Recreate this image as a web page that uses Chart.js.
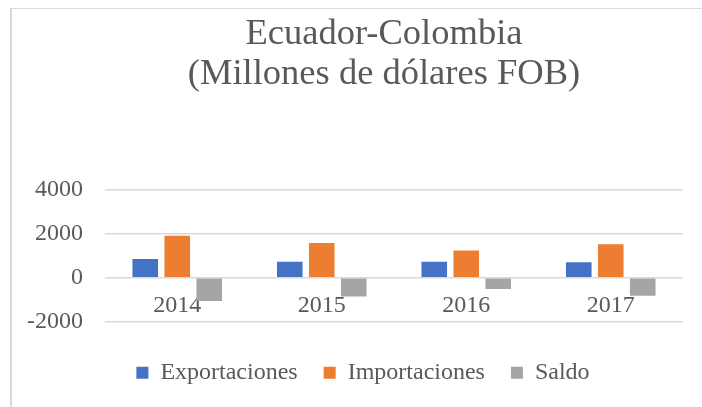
<!DOCTYPE html>
<html>
<head>
<meta charset="utf-8">
<script src="https://cdn.jsdelivr.net/npm/chart.js@4/dist/chart.umd.min.js"></script>
<style>
  html, body { margin: 0; padding: 0; background: #ffffff; }
  #wrap { position: relative; width: 702px; height: 407px; overflow: hidden; }
  #frame { position: absolute; left: 10px; top: 8px; right: -2px; bottom: -2px;
           border-left: 2px solid #d9d9d9; border-top: 1px solid #d9d9d9; pointer-events: none; }
  canvas { position: absolute; left: 0; top: 0; }
</style>
</head>
<body>
<div id="wrap">
  <canvas id="c" width="702" height="407"></canvas>
  <div id="frame"></div>
</div>
<script>
const titleLines = ['Ecuador-Colombia', '(Millones de dólares FOB)'];
const categories = ['2014', '2015', '2016', '2017'];
const exportaciones = [850, 730, 730, 700];
const importaciones = [1910, 1580, 1245, 1520];
const saldo = [-1060, -850, -515, -820];
const seriesNames = ['Exportaciones', 'Importaciones', 'Saldo'];
const yMin = -2000, yMax = 4000, yStep = 2000;

const textColor = '#595959';
const serif = "'Liberation Serif', 'Times New Roman', serif";

const shiftPlugin = {
  id: 'shiftBoxes',
  afterLayout(chart) {
    const t = chart.titleBlock;
    if (t) { t.left += 40; t.right += 40; }
    const l = chart.legend;
    if (l) { l.left += 19; l.right += 19; l.top += 13; l.bottom += 13; }
  }
};

new Chart(document.getElementById('c'), {
  type: 'bar',
  data: {
    labels: categories,
    datasets: [
      { label: seriesNames[0], data: exportaciones, backgroundColor: '#4472C4' },
      { label: seriesNames[1], data: importaciones, backgroundColor: '#ED7D31' },
      { label: seriesNames[2], data: saldo, backgroundColor: '#A5A5A5' }
    ]
  },
  options: {
    responsive: false,
    animation: false,
    devicePixelRatio: 1,
    categoryPercentage: 0.664,
    barPercentage: 0.8,
    layout: { padding: { left: 5, right: 19, top: 0, bottom: 25.3 } },
    plugins: {
      title: {
        display: true,
        text: titleLines,
        color: textColor,
        font: { family: serif, size: 36.5, weight: 'normal', lineHeight: 1.08 },
        padding: { top: 15.2, bottom: 95.8 }
      },
      legend: {
        display: true,
        position: 'bottom',
        labels: {
          color: textColor,
          font: { family: serif, size: 24, weight: 'normal' },
          boxWidth: 12,
          boxHeight: 12,
          padding: 26
        }
      },
      tooltip: { enabled: false }
    },
    scales: {
      x: {
        position: { y: 0 },
        grid: { display: false, drawTicks: false },
        border: { display: false },
        ticks: { color: textColor, font: { family: serif, size: 24 }, padding: 13.8, maxRotation: 0 }
      },
      y: {
        min: yMin,
        max: yMax,
        grid: { color: '#d9d9d9', lineWidth: 1.5, drawTicks: false },
        border: { display: false },
        ticks: {
          stepSize: yStep, color: textColor, font: { family: serif, size: 24 }, padding: 22,
          callback: (v) => String(v)
        }
      }
    }
  },
  plugins: [shiftPlugin]
});
</script>
</body>
</html>
